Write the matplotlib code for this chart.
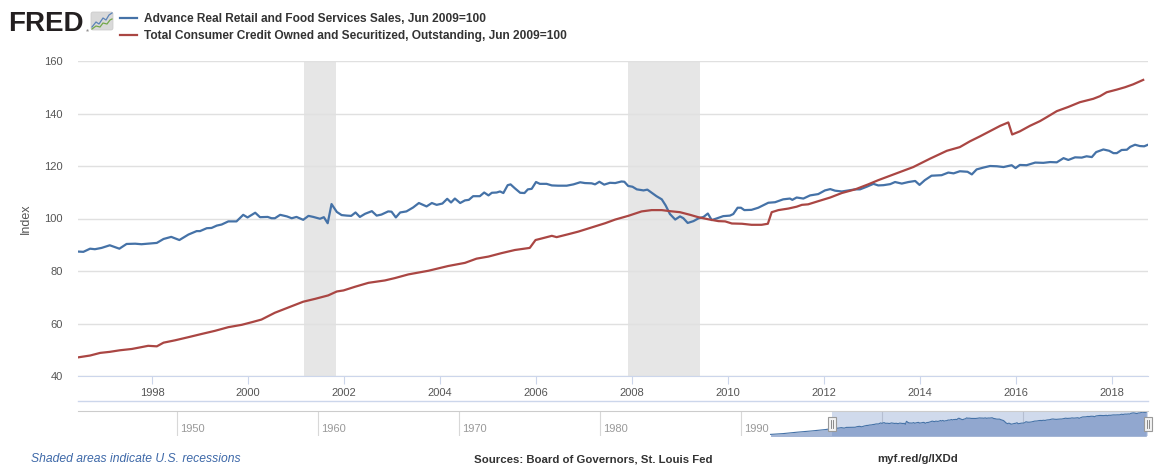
import numpy as np
import matplotlib.pyplot as plt
from matplotlib.patches import FancyBboxPatch, Rectangle

# Advance Real Retail and Food Services Sales, Jun 2009=100
retail_years = [1996.46, 1996.57, 1996.71, 1996.81, 1996.95, 1997.12, 1997.32, 1997.47, 1997.65, 1997.78,
                1998.10, 1998.24, 1998.40, 1998.57, 1998.76, 1998.93, 1999.00, 1999.14, 1999.24, 1999.35,
                1999.45, 1999.59, 1999.76, 1999.90, 1999.99, 2000.15, 2000.25, 2000.41, 2000.49, 2000.56,
                2000.67, 2000.81, 2000.91, 2001.01, 2001.15, 2001.26, 2001.36, 2001.50, 2001.58, 2001.66,
                2001.74, 2001.85, 2001.95, 2002.06, 2002.15, 2002.24, 2002.33, 2002.44, 2002.58, 2002.68,
                2002.78, 2002.92, 2002.99, 2003.08, 2003.17, 2003.30, 2003.44, 2003.56, 2003.72, 2003.83,
                2003.93, 2004.05, 2004.15, 2004.23, 2004.31, 2004.42, 2004.52, 2004.60, 2004.69, 2004.83,
                2004.92, 2005.01, 2005.08, 2005.18, 2005.25, 2005.32, 2005.41, 2005.47, 2005.56, 2005.67,
                2005.76, 2005.83, 2005.91, 2006.00, 2006.08, 2006.22, 2006.33, 2006.46, 2006.64, 2006.78,
                2006.92, 2007.02, 2007.16, 2007.23, 2007.32, 2007.42, 2007.54, 2007.65, 2007.78, 2007.84,
                2007.92, 2008.01, 2008.10, 2008.24, 2008.32, 2008.41, 2008.51, 2008.62, 2008.70, 2008.79,
                2008.90, 2009.00, 2009.07, 2009.16, 2009.28, 2009.38, 2009.49, 2009.58, 2009.66, 2009.76,
                2009.90, 2010.04, 2010.11, 2010.20, 2010.27, 2010.34, 2010.49, 2010.63, 2010.74, 2010.84,
                2010.98, 2011.15, 2011.29, 2011.34, 2011.43, 2011.57, 2011.71, 2011.88, 2012.02, 2012.13,
                2012.23, 2012.37, 2012.51, 2012.65, 2012.75, 2012.89, 2013.03, 2013.13, 2013.24, 2013.38,
                2013.48, 2013.62, 2013.76, 2013.90, 2013.99, 2014.10, 2014.24, 2014.45, 2014.59, 2014.70,
                2014.83, 2014.99, 2015.08, 2015.18, 2015.32, 2015.46, 2015.60, 2015.74, 2015.91, 2015.99,
                2016.08, 2016.22, 2016.40, 2016.57, 2016.71, 2016.85, 2016.99, 2017.09, 2017.23, 2017.37,
                2017.47, 2017.58, 2017.67, 2017.82, 2017.94, 2018.03, 2018.10, 2018.20, 2018.31, 2018.38,
                2018.48, 2018.58, 2018.67, 2018.75]
retail = [87.4, 87.3, 88.5, 88.3, 88.8, 89.8, 88.5, 90.3, 90.4, 90.2,
          90.7, 92.2, 93.0, 91.8, 93.9, 95.2, 95.2, 96.3, 96.4, 97.3,
          97.7, 98.9, 98.9, 101.4, 100.4, 102.2, 100.5, 100.6, 100.1, 100.1,
          101.4, 100.8, 100.1, 100.6, 99.5, 101.0, 100.6, 99.9, 100.5, 98.2,
          105.5, 102.5, 101.3, 101.1, 101.0, 102.3, 100.6, 101.8, 102.8, 101.1,
          101.5, 102.7, 102.6, 100.4, 102.3, 102.7, 104.2, 105.9, 104.6, 105.9,
          105.2, 105.7, 107.5, 106.1, 107.6, 105.9, 106.9, 107.1, 108.5, 108.5,
          109.9, 108.8, 109.8, 109.9, 110.3, 109.7, 112.7, 113.0, 111.5, 109.8,
          109.7, 111.1, 111.3, 113.9, 113.2, 113.2, 112.6, 112.5, 112.5, 113.0,
          113.8, 113.5, 113.4, 113.0, 114.0, 112.9, 113.6, 113.5, 114.1, 114.0,
          112.4, 112.1, 111.1, 110.7, 111.0, 109.8, 108.5, 107.3, 105.0, 101.7,
          99.6, 100.8, 100.1, 98.3, 99.0, 100.0, 100.6, 101.9, 99.4, 100.0,
          100.9, 101.1, 101.7, 104.1, 104.1, 103.2, 103.3, 104.1, 105.1, 106.0,
          106.2, 107.3, 107.6, 107.1, 108.0, 107.6, 108.8, 109.3, 110.7, 111.2,
          110.6, 110.3, 110.7, 111.1, 111.1, 112.1, 113.2, 112.6, 112.7, 113.1,
          113.9, 113.3, 113.9, 114.3, 112.8, 114.6, 116.3, 116.5, 117.5, 117.2,
          118.0, 117.8, 116.8, 118.7, 119.4, 120.0, 119.9, 119.6, 120.3, 119.2,
          120.4, 120.3, 121.3, 121.2, 121.5, 121.4, 123.0, 122.3, 123.3, 123.2,
          123.7, 123.4, 125.3, 126.3, 125.8, 124.9, 124.9, 126.1, 126.2, 127.3,
          128.1, 127.6, 127.5, 128.1]

# Total Consumer Credit Owned and Securitized, Outstanding, Jun 2009=100
credit_years = [1996.46, 1996.71, 1996.92, 1997.12, 1997.33, 1997.58, 1997.78, 1997.92, 1998.10, 1998.24,
                1998.48, 1998.76, 1999.03, 1999.31, 1999.59, 1999.87, 2000.08, 2000.28, 2000.56, 2000.84,
                2001.15, 2001.40, 2001.67, 2001.85, 2001.99, 2002.23, 2002.51, 2002.85, 2003.06, 2003.34,
                2003.76, 2004.17, 2004.52, 2004.76, 2005.01, 2005.28, 2005.56, 2005.87, 2005.99, 2006.12,
                2006.33, 2006.43, 2006.67, 2006.88, 2007.16, 2007.44, 2007.65, 2007.92, 2008.20, 2008.41,
                2008.62, 2008.79, 2009.00, 2009.21, 2009.38, 2009.59, 2009.80, 2009.94, 2010.08, 2010.29,
                2010.49, 2010.70, 2010.83, 2010.91, 2011.05, 2011.26, 2011.43, 2011.54, 2011.67, 2011.88,
                2012.13, 2012.37, 2012.65, 2012.92, 2013.13, 2013.48, 2013.86, 2014.21, 2014.56, 2014.83,
                2015.04, 2015.25, 2015.46, 2015.67, 2015.84, 2015.92, 2016.08, 2016.29, 2016.50, 2016.64,
                2016.85, 2017.09, 2017.33, 2017.61, 2017.75, 2017.89, 2018.10, 2018.27, 2018.44, 2018.65]
credit = [47.1, 47.8, 48.8, 49.2, 49.8, 50.3, 51.0, 51.5, 51.3, 52.7,
          53.6, 54.8, 56.0, 57.2, 58.6, 59.5, 60.5, 61.5, 64.1, 66.1,
          68.3, 69.4, 70.7, 72.2, 72.6, 74.0, 75.5, 76.4, 77.3, 78.7,
          80.1, 81.9, 83.1, 84.7, 85.5, 86.8, 88.0, 88.8, 91.8, 92.4,
          93.4, 92.9, 94.0, 95.0, 96.6, 98.2, 99.6, 101.0, 102.7, 103.2,
          103.2, 102.8, 102.4, 101.4, 100.5, 99.7, 99.0, 98.9, 98.1, 98.0,
          97.6, 97.6, 98.0, 102.4, 103.2, 103.8, 104.5, 105.2, 105.4, 106.6,
          108.0, 109.7, 111.1, 113.0, 114.6, 117.0, 119.6, 122.8, 125.8, 127.2,
          129.4, 131.3, 133.3, 135.3, 136.6, 132.0, 133.2, 135.3, 137.1, 138.6,
          140.9, 142.5, 144.3, 145.6, 146.6, 148.1, 149.1, 150.0, 151.1, 152.8]

# earlier part of the retail series, only visible in the navigator
nav_early_years = [1992.1, 1993.0, 1994.0, 1995.0, 1996.0]
nav_early = [73.0, 75.0, 78.5, 81.5, 85.0]

recessions = [(2001.167, 2001.833), (2007.917, 2009.417)]
year_ticks = list(range(1998, 2019, 2))
nav_ticks = list(range(1950, 2011, 10))
y_ticks = list(range(40, 161, 20))

BLUE = '#4572a7'
RED = '#aa4643'
W, H = 1168, 470

plt.rcParams['font.family'] = ['Liberation Sans', 'DejaVu Sans']
fig = plt.figure(figsize=(W / 100, H / 100), dpi=100)


def box(x0, y0, x1, y1):
    return [x0 / W, 1 - y1 / H, (x1 - x0) / W, (y1 - y0) / H]


# main chart
ax = fig.add_axes(box(78, 61, 1148, 376))
for a, b in recessions:
    ax.axvspan(a, b, color='#e6e6e6', lw=0, zorder=0)
ax.plot(retail_years, retail, color=BLUE, lw=1.6, zorder=3,
        label='Advance Real Retail and Food Services Sales, Jun 2009=100')
ax.plot(credit_years, credit, color=RED, lw=1.6, zorder=3,
        label='Total Consumer Credit Owned and Securitized, Outstanding, Jun 2009=100')
ax.set_xlim(1996.458, 2018.75)
ax.set_ylim(40, 160)
ax.set_yticks(y_ticks)
ax.set_xticks(year_ticks)
ax.grid(axis='y', color='#e0e0e0', lw=1)
ax.set_axisbelow(True)
for s in ['top', 'right', 'left']:
    ax.spines[s].set_visible(False)
ax.spines['bottom'].set_color('#ccd6eb')
ax.spines['bottom'].set_zorder(4)
ax.tick_params(axis='y', length=0, pad=11, labelsize=8, labelcolor='#555555')
ax.tick_params(axis='x', length=6, color='#ccd6eb', pad=3, labelsize=8, labelcolor='#555555')
ax.set_ylabel('Index', fontsize=9, color='#555555', labelpad=9)

# legend
fig.legend(loc='upper left', bbox_to_anchor=(120 / W, 1 - 13 / H), frameon=False,
           handlelength=1.45, handletextpad=0.6, labelspacing=0.4, borderpad=0,
           borderaxespad=0, prop={'size': 8.6, 'weight': 'bold'}, labelcolor='#333333')

# navigator
nav = fig.add_axes(box(78, 411, 1148, 436))
nav_x = nav_early_years + retail_years
nav_y = nav_early + retail
nav.fill_between(nav_x, nav_y, 60, color='#a4b6d6', lw=0, zorder=1)
nav.plot(nav_x, nav_y, color=BLUE, lw=0.8, zorder=2)
nav.set_xlim(1942.98, 2018.87)
nav.set_ylim(69, 131)
nav.axvspan(retail_years[0], 2018.87, color='#6685c2', alpha=0.3, lw=0, zorder=1.5)
for t in nav_ticks:
    nav.axvline(t, color='#d8d8d8', lw=0.8, zorder=0)
    nav.text(t + 0.25, 0.3, str(t), transform=nav.get_xaxis_transform(),
             fontsize=8, color='#999999', va='center', ha='left', zorder=0.5)
nav.set_xticks([])
nav.set_yticks([])
for s in ['bottom', 'right', 'left']:
    nav.spines[s].set_visible(False)
nav.spines['top'].set_color('#cccccc')

# overlay in pixel coordinates for the page decorations
ov = fig.add_axes([0, 0, 1, 1], zorder=10)
ov.set_xlim(0, W)
ov.set_ylim(H, 0)
ov.axis('off')
ov.plot([78, 1148], [400.5, 400.5], color='#ccd6eb', lw=1)

fig.canvas.draw()
for hx in [retail_years[0], 2018.87]:
    px = nav.transData.transform((hx, 0))[0]
    ov.add_patch(Rectangle((px - 4, 417), 8, 14, facecolor='#f2f2f2', edgecolor='#999999', lw=0.8))
    ov.plot([px - 1, px - 1], [420, 428], color='#777777', lw=0.6)
    ov.plot([px + 1, px + 1], [420, 428], color='#777777', lw=0.6)

# FRED logo
ov.text(8, 31, 'FRED', fontsize=20, fontweight='bold', color='#231f20', va='baseline', ha='left')
ov.text(86, 32, '®', fontsize=3, color='#231f20', va='baseline')
ov.add_patch(FancyBboxPatch((91, 12), 22, 18, boxstyle='round,pad=0,rounding_size=2',
                            facecolor='#d9d9d9', edgecolor='#c8c8c8', lw=0.5))
ov.plot([92, 96, 99, 103, 106, 109, 112], [27, 22, 24, 18, 20, 15, 13], color='#5b83b7', lw=0.9)
ov.plot([92, 96, 100, 103, 107, 110, 112], [29, 26, 27, 23, 24, 20, 19], color='#74a84a', lw=0.9)

# footer
ov.text(31, 459, 'Shaded areas indicate U.S. recessions', fontsize=8.75, style='italic',
        color='#3d68a8', va='center', ha='left')
ov.text(474, 459, 'Sources: Board of Governors, St. Louis Fed', fontsize=8.2, fontweight='bold',
        color='#333333', va='center', ha='left')
ov.text(877, 459, 'myf.red/g/lXDd', fontsize=8.2, fontweight='bold',
        color='#333333', va='center', ha='left')

fig.savefig('out.png', dpi=100)
